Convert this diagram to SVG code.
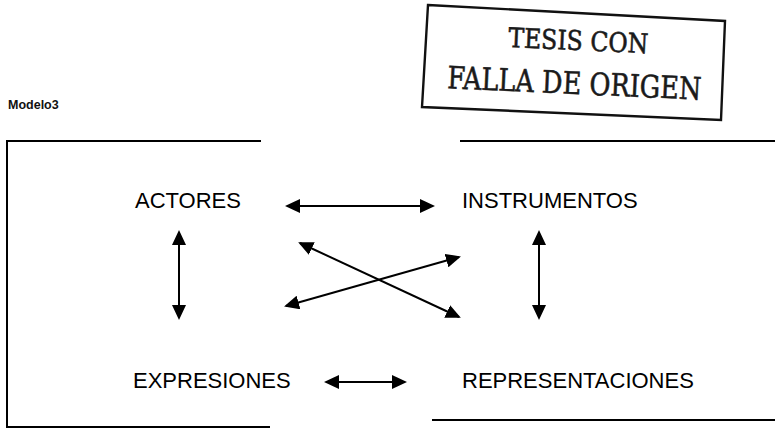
<svg xmlns="http://www.w3.org/2000/svg" width="775" height="429" viewBox="0 0 775 429">
<style>
.lbl{font-family:"Liberation Sans",Arial,sans-serif;font-size:22px;fill:#000}
.frame{stroke:#000;stroke-width:2;fill:none}
.conn{stroke:#000;stroke-width:2;fill:none;marker-start:url(#ah);marker-end:url(#ah)}
.stamp{font-family:"DejaVu Serif","Liberation Serif",serif;fill:#1a1a1a;stroke:#1a1a1a;stroke-width:0.6}
</style>
<defs>
<marker id="ah" markerUnits="userSpaceOnUse" markerWidth="15" markerHeight="14" refX="13" refY="7" orient="auto-start-reverse">
<path d="M0,0 L15,7 L0,14 z" fill="#000"/>
</marker>
</defs>
<rect width="775" height="429" fill="#fff"/>
<g id="stamp">
<polygon points="428,5 725,21 721,120 422,107" fill="none" stroke="#111" stroke-width="2.4"/>
<g transform="rotate(2.6 575 70)">
<text class="stamp" x="577" y="50" text-anchor="middle" font-size="27" textLength="140" lengthAdjust="spacingAndGlyphs">TESIS CON</text>
<text class="stamp" x="575" y="94" text-anchor="middle" font-size="31" textLength="254" lengthAdjust="spacingAndGlyphs">FALLA DE ORIGEN</text>
</g>
</g>
<text id="title" x="8" y="109" font-family="Liberation Sans,Arial,sans-serif" font-size="12.5" font-weight="bold" fill="#111">Modelo3</text>
<g id="frame" class="frame">
<line x1="6" y1="141" x2="261" y2="141"/>
<line x1="460" y1="141" x2="775" y2="141"/>
<line x1="7" y1="140" x2="7" y2="428"/>
<line x1="6" y1="427" x2="270" y2="427"/>
<line x1="432" y1="420" x2="775" y2="420"/>
</g>
<g id="actores"><text class="lbl" x="135" y="208">ACTORES</text></g>
<g id="instrumentos"><text class="lbl" x="462" y="208">INSTRUMENTOS</text></g>
<g id="expresiones"><text class="lbl" x="133" y="388">EXPRESIONES</text></g>
<g id="representaciones"><text class="lbl" x="462" y="388">REPRESENTACIONES</text></g>
<g id="connectors">
<line class="conn" x1="287" y1="206" x2="433" y2="206"/>
<line class="conn" x1="179" y1="232" x2="179" y2="318"/>
<line class="conn" x1="539" y1="232" x2="539" y2="318"/>
<line class="conn" x1="326" y1="382" x2="405" y2="382"/>
<line class="conn" x1="300" y1="243" x2="459" y2="317"/>
<line class="conn" x1="286" y1="306" x2="459" y2="257"/>
</g>
</svg>
